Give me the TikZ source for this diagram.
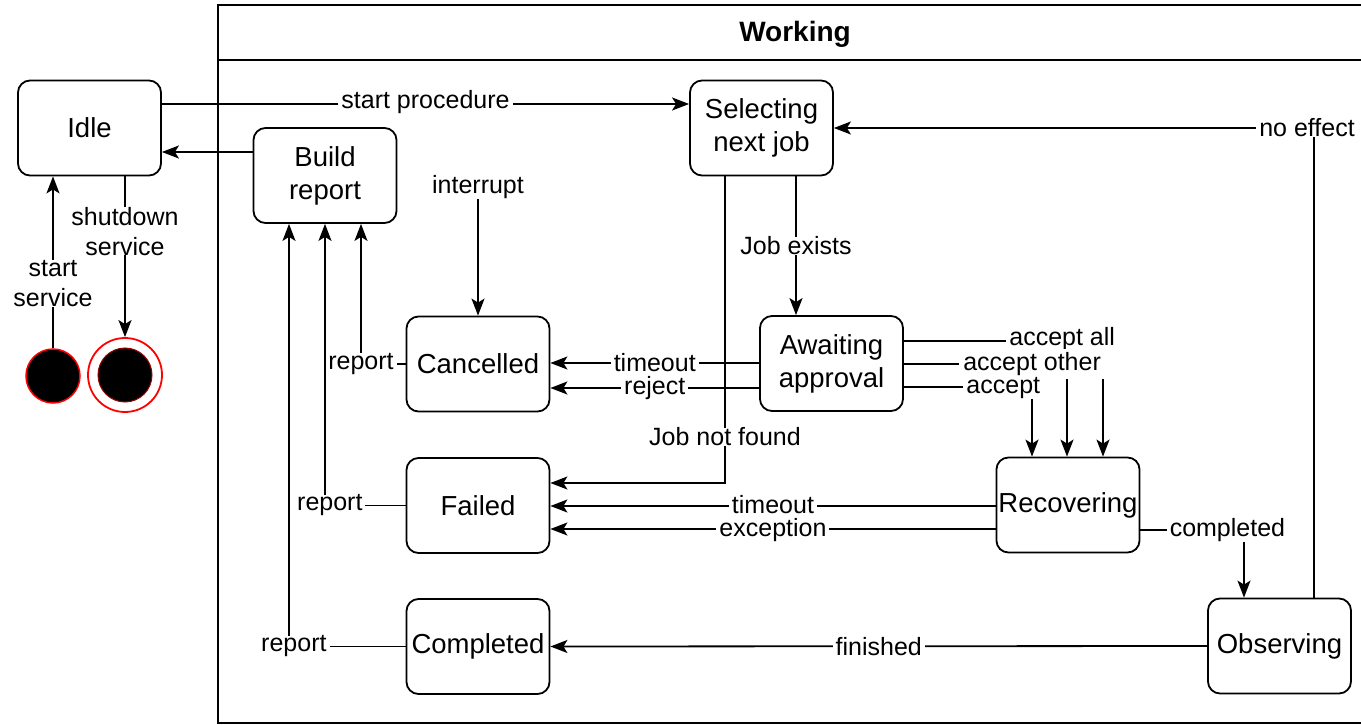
\documentclass[tikz,border=0pt]{standalone}
\usepackage{fontspec}
\setmainfont{Liberation Sans}
\usetikzlibrary{arrows.meta}
\tikzset{
  state/.style={draw, line width=1.8pt, rounded corners=12pt, minimum width=143pt,
    minimum height=95pt, align=center, inner sep=2pt,
    font=\fontsize{27.5}{33}\selectfont},
  lbl/.style={fill=white, inner xsep=3pt, inner ysep=0pt, align=center,
    font=\fontsize{25}{30}\selectfont},
  arr/.style={line width=1.8pt, -{Stealth[length=17pt,width=13pt,inset=4pt]}},
  frame/.style={line width=1.8pt},
}
\begin{document}
\begin{tikzpicture}[x=1pt,y=-1pt]
\clip (0,0) rectangle (1361,725);
\fill[white] (0,0) rectangle (1361,725);

% composite state "Working"
\draw[frame] (218,5) rectangle (1400,723);
\draw[frame] (218,60) -- (1400,60);
\node[font=\bfseries\fontsize{28}{30}\selectfont] (title) at (795,34) {Working};

% states
\node[state] (idle)   at (89.5,128)   {Idle};
\node[state] (build)  at (325,175.5)  {Build\\report};
\node[state] (sel)    at (761.5,128)  {Selecting\\next job};
\node[state] (canc)   at (478,364)    {Cancelled};
\node[state] (await)  at (831.5,363.5){Awaiting\\approval};
\node[state] (failed) at (478,505.5)  {Failed};
\node[state] (compl)  at (478,646.5)  {Completed};
\node[state] (recov)  at (1068,505)   {Recovering};
\node[state] (obs)    at (1279.5,646) {Observing};

% initial and final pseudo-states
\node[circle, draw=red, fill=black, line width=1.5pt, minimum size=54pt, inner sep=0pt] (init) at (53,376) {};
\node[circle, draw=red, line width=1.8pt, minimum size=74pt, inner sep=0pt] (fin) at (125,375) {};
\node[circle, fill=black, draw=red!60!black, line width=1pt, minimum size=54pt, inner sep=0pt] (fincore) at (fin) {};

% transitions
\draw[arr] (idle.south -| fin) -- node[lbl,pos=0.354,yshift=2pt]{shutdown\\service} (fin);
\draw[arr] (init) -- node[lbl,pos=0.4,yshift=-4pt,inner xsep=1pt]{start\\service} (init |- idle.south);
\draw[arr] (build.west |- 0,152) -- (idle.east |- 0,152);
\draw[arr] (idle.east |- 0,104) -- node[lbl,yshift=2pt]{start procedure} (sel.west |- 0,104);
\draw[arr] (obs.north -| 1314,0) |- node[lbl,pos=0.5,xshift=-7pt]{no effect} (sel.east);

\node[lbl] (intr) at (478,187) {interrupt};
\draw[arr] (intr) -- (canc);

\draw[arr] (sel.south -| 796,0) -- node[lbl]{Job exists} (await.north -| 796,0);
\draw[arr] (sel.south -| 725,0) |- node[lbl,pos=0.425]{Job not found} (failed.east |- 0,483);

\draw[arr] (await.west |- 0,363) -- node[lbl]{timeout} (canc.east |- 0,363);
\draw[arr] (await.west |- 0,388) -- node[lbl]{reject} (canc.east |- 0,388);

\draw[arr] (await.east |- 0,341) -| node[lbl,pos=0.3975,yshift=1.5pt]{accept all} (recov.north -| 1103,0);
\draw[arr] (await.east |- 0,364) -| node[lbl,pos=0.393,inner ysep=3pt,inner xsep=4pt]{accept other} (recov.north -| 1067,0);
\draw[arr] (await.east |- 0,387) -| node[lbl,pos=0.388,yshift=-1.5pt]{accept} (recov.north -| 1032,0);

\draw[arr] (recov.west |- 0,506) -- node[lbl,yshift=1.5pt]{timeout} (failed.east |- 0,506);
\draw[arr] (recov.west |- 0,529) -- node[lbl,yshift=-1pt]{exception} (failed.east |- 0,529);
\draw[arr] (recov.east |- 0,530) -| node[lbl,pos=0.42]{completed} (obs.north -| 1244,0);
\draw[arr] (obs.west) -- node[lbl]{finished} (compl.east);

\draw[arr] (canc.west) -| node[lbl,pos=0.5]{report} (build.south -| 361,0);
\draw[arr] (failed.west) -| node[lbl,pos=0.47]{report} (build.south -| 325,0);
\draw[arr] (compl.west) -| node[lbl,pos=0.479]{report} (build.south -| 289,0);
\end{tikzpicture}
\end{document}
